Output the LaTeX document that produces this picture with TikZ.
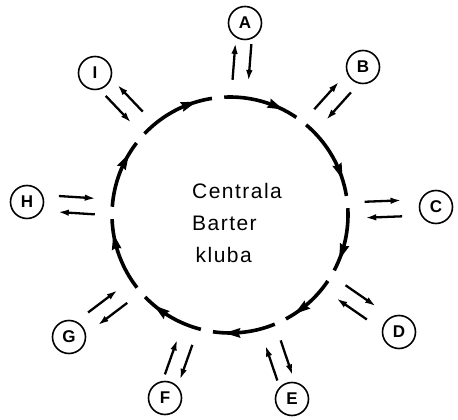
\documentclass[tikz,border=0pt]{standalone}
\usepackage{fontspec}
\newfontfamily\clubfont{Liberation Sans}[LetterSpace=7]
\usetikzlibrary{calc,arrows.meta,decorations.markings}
\tikzset{
  ring/.style={line width=3.6pt,
    postaction={decorate,decoration={markings,
      mark=at position 0.72 with {\fill (6pt,0pt) -- (-10pt,5pt) -- (-8pt,0pt) -- (-10pt,-5pt) -- cycle;}}}},
  pair/.style={line width=2.3pt,-{Latex[length=11pt,width=6.5pt]}},
  lbl/.style={draw,circle,line width=1.6pt,minimum size=33pt,inner sep=0pt,
    font=\clubfont\bfseries\fontsize{17pt}{17pt}\selectfont}
}
\begin{document}
\begin{tikzpicture}[x=1pt,y=1pt]
  \useasboundingbox (0,0) rectangle (458,420);
  \coordinate (O) at (230,205);
  % tekst u sredini
  \node[anchor=west,inner sep=0pt,align=left,font=\clubfont\fontsize{21pt}{32pt}\selectfont] (club) at (192,197.5) {Centrala\\Barter\\\,kluba};
  % clanovi
  \node[lbl] (A) at (245,397) {A};
  \node[lbl] (B) at (363,353) {B};
  \node[lbl] (C) at (436,213) {C};
  \node[lbl] (D) at (399,88) {D};
  \node[lbl] (E) at (292,21) {E};
  \node[lbl] (F) at (165,22) {F};
  \node[lbl] (G) at (69,83) {G};
  \node[lbl] (H) at (27,218) {H};
  \node[lbl] (I) at (95,347) {I};
  % krug
  \foreach \a/\b in {92.8/55.8,49.8/9.3,3.3/-28,-34/-61.7,-67.7/-98.3,-104.3/-136,-142/-178,-184/-217.6,-223.6/-261.2}
    \draw[ring] (O) ++(\a:118pt) arc[start angle=\a,end angle=\b,radius=118pt];
  % strelice prema clanovima i nazad
  \foreach \n/\u/\v in {A/8/-8,B/8/-8,C/8/-8,D/8/-8,E/8/-8,F/8/-8,G/8/-8,H/8/-8,I/-8/8}{
    \draw[pair] ($(O)!135pt!(\n)!\u pt!90:(\n)$) -- ($(O)!172pt!(\n)!\u pt!90:(\n)$);
    \draw[pair] ($(O)!172pt!(\n)!\v pt!90:(\n)$) -- ($(O)!135pt!(\n)!\v pt!90:(\n)$);
  }
\end{tikzpicture}
\end{document}
